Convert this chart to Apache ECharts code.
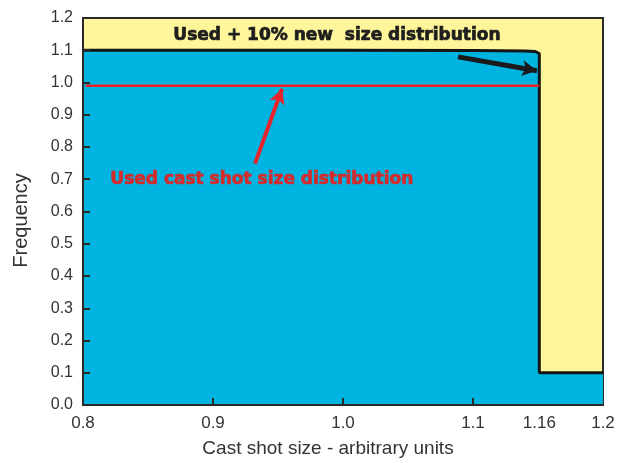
<!DOCTYPE html>
<html>
<head>
<meta charset="utf-8">
<script src="https://cdn.jsdelivr.net/npm/echarts@6/dist/echarts.min.js"></script>
<style>html,body{margin:0;padding:0;background:#fff}#c{width:628px;height:463px}</style>
</head>
<body>
<div id="c"></div>
<script>
// Data
var dropX = 1.151;
var newDistX = [0.8, 0.9, 1.0, 1.1, 1.14, 1.148, dropX, dropX, 1.2];
var newDistY = [1.1, 1.1, 1.1, 1.099, 1.098, 1.096, 1.09, 0.1, 0.1];
var usedDistX = [0.802, dropX];
var usedDistY = [0.99, 0.99];
var xTickValues = [0.8, 0.9, 1.0, 1.1, dropX, 1.2];
var xTickLabels = ['0.8', '0.9', '1.0', '1.1', '1.16', '1.2'];
var xTickMarks = [0.9, 1.0, 1.1];
var redArrow = [[0.9323, 0.7485], [0.9531, 0.9805]];
var blackArrow = [[1.0885, 1.0795], [1.1492, 1.0362]];

var chart = echarts.init(document.getElementById('c'));
var font = 'Liberation Sans, Arial, sans-serif';
chart.setOption({
  animation: false,
  grid: {
    left: 83, right: 25, top: 18, bottom: 58,
    show: true, backgroundColor: '#FFF59B', borderColor: '#2a2a2a', borderWidth: 2
  },
  xAxis: {
    type: 'value', min: 0.8, max: 1.2, z: 6,
    name: 'Cast shot size - arbitrary units', nameLocation: 'middle', nameGap: 34,
    nameTextStyle: { fontFamily: font, fontSize: 19, color: '#333', padding: [0, 30, 0, 0] },
    axisLine: { show: true, lineStyle: { color: '#2a2a2a', width: 2 } },
    axisTick: { show: true, inside: true, length: 7, customValues: xTickMarks, lineStyle: { color: '#2a2a2a', width: 2 } },
    axisLabel: {
      customValues: xTickValues, margin: 10, fontFamily: font, fontSize: 17, color: '#333',
      formatter: function (v) { var i = xTickValues.indexOf(v); return i >= 0 ? xTickLabels[i] : ''; }
    },
    splitLine: { show: false }
  },
  yAxis: {
    type: 'value', min: 0, max: 1.2, interval: 0.1, z: 6,
    name: 'Frequency', nameLocation: 'middle', nameGap: 52,
    nameTextStyle: { fontFamily: font, fontSize: 20, color: '#333', padding: [0, 0, 0, -18] },
    axisLine: { show: true, lineStyle: { color: '#2a2a2a', width: 2 } },
    axisTick: { show: true, inside: true, length: 7, lineStyle: { color: '#2a2a2a', width: 2 } },
    axisLabel: { margin: 10, fontFamily: font, fontSize: 16, color: '#333',
      formatter: function (v) { return v.toFixed(1); } },
    splitLine: { show: false }
  },
  series: [
    {
      type: 'line', silent: true, symbol: 'none', z: 2,
      data: newDistX.map(function (x, i) { return [x, newDistY[i]]; }),
      lineStyle: { color: '#151515', width: 3 },
      areaStyle: { color: '#00B4E1', opacity: 1 }
    },
    {
      type: 'line', silent: true, symbol: 'none', z: 3,
      data: usedDistX.map(function (x, i) { return [x, usedDistY[i]]; }),
      lineStyle: { color: '#E8242B', width: 2.5 }
    },
    {
      type: 'line', silent: true, symbol: 'none', data: [], z: 4,
      markLine: {
        silent: true, symbol: ['none', 'arrow'], symbolSize: [12, 15],
        label: { show: false }, emphasis: { disabled: true },
        data: [
          [{ coord: redArrow[0], lineStyle: { color: '#E8242B', width: 4, type: 'solid' } }, { coord: redArrow[1] }],
          [{ coord: blackArrow[0], lineStyle: { color: '#1a1a1a', width: 5, type: 'solid' } }, { coord: blackArrow[1] }]
        ]
      }
    }
  ],
  graphic: [
    { type: 'text', left: 173, top: 27, z: 10, style: { text: 'Used + 10% new  size distribution', fontFamily: 'DejaVu Sans', fontWeight: 'bold', fontSize: 17, fill: '#1e1e1e', stroke: '#1e1e1e', lineWidth: 0.7 } },
    { type: 'text', left: 110, top: 171, z: 10, style: { text: 'Used cast shot size distribution', fontFamily: 'DejaVu Sans', fontWeight: 'bold', fontSize: 17, fill: '#D42B2D', stroke: '#D42B2D', lineWidth: 0.7 } }
  ]
});
</script>
</body>
</html>
